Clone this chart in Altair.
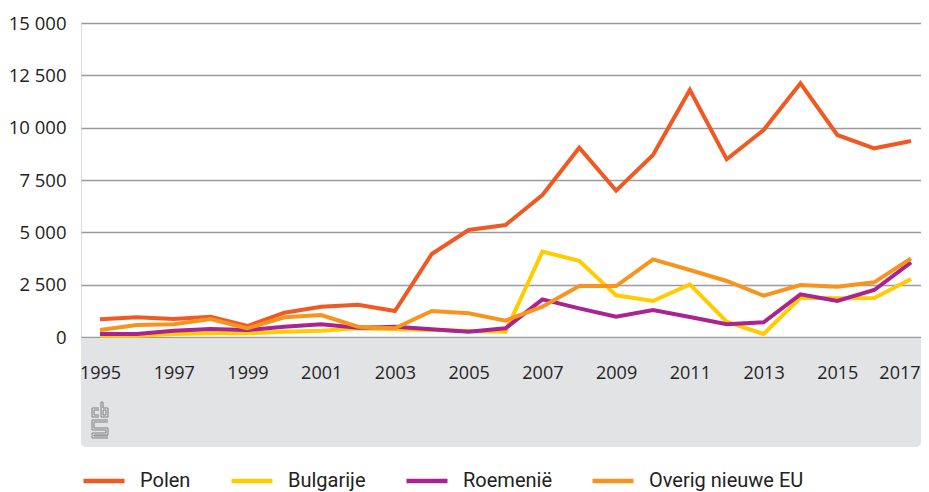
import altair as alt
import pandas as pd

years = list(range(1995, 2018))
polen = [845, 940, 860, 970, 525, 1160, 1448, 1543, 1242, 3965, 5111, 5350, 6783, 9044, 6990, 8694, 11800, 8489, 9888, 12120, 9650, 9013, 9363]
bulgarije = [62, 62, 143, 175, 175, 255, 300, 414, 366, 334, 287, 255, 4076, 3645, 1990, 1720, 2517, 731, 143, 1877, 1850, 1860, 2771]
roemenie = [143, 143, 300, 382, 334, 493, 605, 446, 493, 367, 255, 415, 1800, 1370, 970, 1290, 955, 605, 700, 2040, 1720, 2245, 3567]
overig = [334, 573, 605, 860, 414, 940, 1050, 493, 414, 1242, 1130, 780, 1448, 2436, 2436, 3710, 3200, 2675, 1974, 2484, 2404, 2611, 3758]

series_names = ["Polen", "Bulgarije", "Roemenië", "Overig nieuwe EU"]
series_colors = ["#EF5A24", "#FFCC00", "#AA2390", "#F7941E"]
x_ticks = list(range(1995, 2018, 2))
y_ticks = [0, 2500, 5000, 7500, 10000, 12500, 15000]

rows = []
for name, vals in zip(series_names, [polen, bulgarije, roemenie, overig]):
    for yr, v in zip(years, vals):
        rows.append({"jaar": yr, "waarde": v, "reeks": name, "order": series_names.index(name)})
df = pd.DataFrame(rows)

W, H = 840, 314
FONT = "Open Sans"

band = alt.Chart(pd.DataFrame({"a": [0]})).mark_rect(
    color="#E2E3E5", cornerRadiusBottomLeft=5, cornerRadiusBottomRight=5
).encode(x=alt.value(0), x2=alt.value(W), y=alt.value(H + 1), y2=alt.value(H + 110))

# CBS logo (decoration)
ox, oy = 11, H + 65
segs = [
    (0, 6, 7, 6), (0, 6, 0, 15), (0, 15, 7, 15), (2, 8, 7, 8), (2, 8, 2, 13), (2, 13, 7, 13),
    (9, 0, 9, 15), (11, 0, 11, 6), (9, 0, 11, 0), (11, 6, 16, 6), (16, 6, 16, 15), (9, 15, 16, 15),
    (11, 8, 14, 8), (11, 8, 11, 13), (11, 13, 14, 13), (14, 8, 14, 13),
    (0, 18, 16, 18), (0, 18, 0, 28), (0, 28, 14, 28), (14, 28, 14, 31), (0, 31, 14, 31), (0, 31, 0, 36), (0, 36, 16, 36),
    (2, 20, 16, 20), (2, 20, 2, 26), (2, 26, 16, 26), (16, 26, 16, 33), (2, 33, 16, 33), (2, 33, 2, 34), (2, 34, 16, 34),
]
logo_df = pd.DataFrame([{"x": ox + a, "y": oy + b, "x2": ox + c, "y2": oy + d} for a, b, c, d in segs])
logo = alt.Chart(logo_df).mark_rule(color="#8E8E8E", strokeWidth=1.2).encode(
    x=alt.X("x:Q", scale=None), y=alt.Y("y:Q", scale=None),
    x2="x2:Q", y2="y2:Q",
)

lines = alt.Chart(df).mark_line(strokeWidth=4, strokeJoin="miter", strokeCap="butt").encode(
    x=alt.X("jaar:Q", scale=alt.Scale(domain=[1994.485, 2017.27], nice=False, zero=False),
            axis=alt.Axis(values=x_ticks, format="d", title=None, grid=False, domain=False, ticks=False,
                          labelPadding=27, labelFont=FONT, labelFontSize=18, labelColor="#222222",
                          labelFlush=15, labelFlushOffset=9, zindex=2)),
    y=alt.Y("waarde:Q", scale=alt.Scale(domain=[0, 15000], nice=False),
            axis=alt.Axis(values=y_ticks, title=None, domain=False, ticks=False, labelPadding=15,
                          labelFont=FONT, labelFontSize=18.5, labelColor="#222222",
                          labelExpr="replace(format(datum.value, ','), ',', ' ')",
                          gridColor="#9B9B9B", gridWidth=1.5)),
    color=alt.Color("reeks:N", scale=alt.Scale(domain=series_names, range=series_colors),
                    legend=alt.Legend(title=None, orient="none", direction="horizontal",
                                      legendX=0, legendY=435, symbolType="stroke",
                                      symbolSize=1681, symbolStrokeWidth=4.5, labelOffset=13,
                                      columnPadding=31, padding=0,
                                      labelFont="Roboto", labelFontSize=20,
                                      labelColor="#222222")),
    order="order:Q",
    detail="reeks:N",
)

chart = alt.layer(band, logo, lines).properties(
    width=W, height=H,
    autosize=alt.AutoSizeParams(type="none"),
    padding={"left": 73, "top": 15, "right": 0, "bottom": 155},
).configure_view(stroke=None).configure(background="white")

chart.save("out.html", embed_options={"renderer": "svg", "actions": False})
